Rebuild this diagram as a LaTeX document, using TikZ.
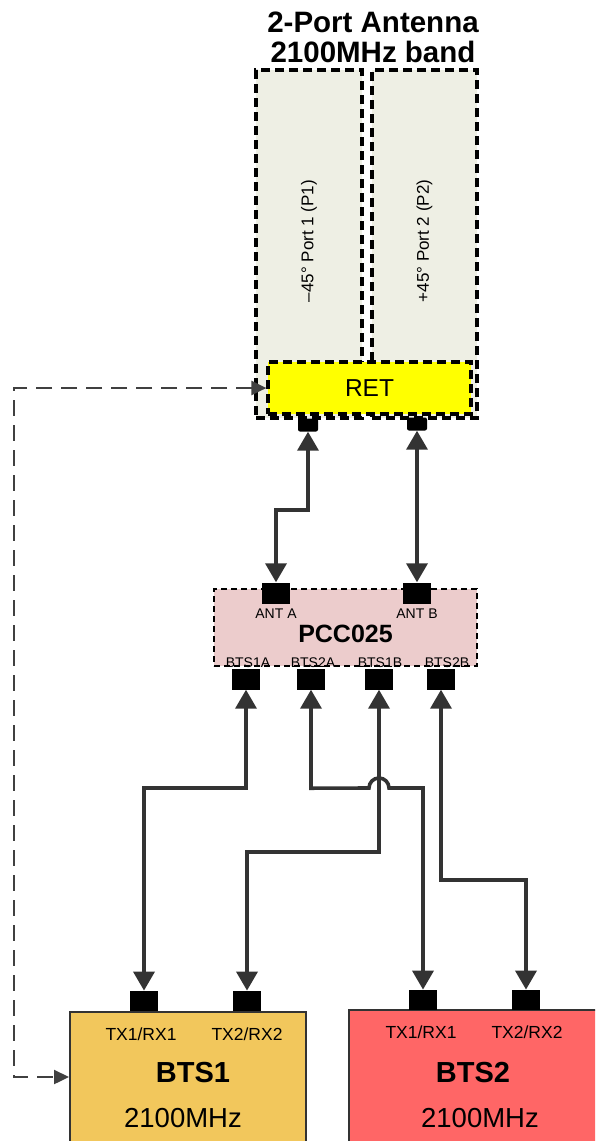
\documentclass[tikz,border=0pt]{standalone}
\usepackage{fontspec}
\setmainfont{Liberation Sans}
\usepackage{xcolor}
\usetikzlibrary{arrows.meta,positioning}

\definecolor{panelfill}{HTML}{EEEFE4}
\definecolor{retfill}{HTML}{FFFF00}
\definecolor{pccfill}{HTML}{ECCCCC}
\definecolor{btsonefill}{HTML}{F2C75C}
\definecolor{btstwofill}{HTML}{FF6666}
\definecolor{wire}{HTML}{333333}
\definecolor{ctrlwire}{HTML}{404040}

\begin{document}
\begin{tikzpicture}[x=1pt, y=-1pt,
  panel/.style={draw, line width=3.2pt, dash pattern=on 9pt off 5pt, fill=panelfill, minimum height=348pt, inner sep=0pt},
  retbox/.style={draw, line width=3.2pt, dash pattern=on 9pt off 5pt, fill=retfill, minimum width=203pt, minimum height=52pt, inner sep=0pt, font=\fontsize{24.5}{24.5}\selectfont},
  pccbox/.style={draw, line width=2.2pt, dash pattern=on 6pt off 4pt, fill=pccfill, minimum width=263pt, minimum height=77pt, inner sep=0pt},
  btsbox/.style={draw=wire, line width=2.4pt, minimum height=170pt, inner sep=0pt, anchor=north west},
  antport/.style={fill=black, rounded corners=2pt, minimum width=20pt, minimum height=13pt, inner sep=0pt},
  port/.style={fill=black, minimum width=28pt, minimum height=21pt, inner sep=0pt},
  lbl/.style={inner sep=0pt, anchor=base},
  portlbl/.style={inner sep=0pt, font=\fontsize{14}{14}\selectfont},
  txlbl/.style={lbl, font=\fontsize{17.5}{17.5}\selectfont},
  biarrow/.style={{Triangle[width=21pt,length=19pt]}-{Triangle[width=21pt,length=19pt]}, line width=3.6pt, color=wire},
  ctrlarrow/.style={{Triangle[width=14pt,length=15pt]}-{Triangle[width=14pt,length=15pt]}, line width=2.4pt, dash pattern=on 16pt off 9pt, color=ctrlwire},
]
\useasboundingbox (0,0) rectangle (595,1141);
\clip (0,0) rectangle (595,1141);

% antenna
\node[lbl, font=\bfseries\fontsize{29.5}{29.5}\selectfont] (titleone) at (373,32) {2-Port Antenna};
\node[lbl, font=\bfseries\fontsize{29.5}{29.5}\selectfont] (titletwo) at (373,62) {2100MHz band};

\node[panel, minimum width=106pt] (portone) at (309,244) {};
\node[panel, minimum width=105pt] (porttwo) at (424.5,244) {};
\node[rotate=90, font=\fontsize{17}{17}\selectfont] (portonelbl) at ([yshift=3pt]portone.center) {--45° Port 1 (P1)};
\node[rotate=90, font=\fontsize{17}{17}\selectfont] (porttwolbl) at ([yshift=3pt]porttwo.center) {+45° Port 2 (P2)};

\node[retbox] (ret) at (369.5,388) {RET};

\node[antport] (antportone) at (308,425) {};
\node[antport] (antporttwo) at (417,424) {};

% combiner
\node[pccbox] (pcc) at (345.5,627.5) {};
\node[port] (anta) at (276,593) {};
\node[port] (antb) at (417,593) {};
\node[portlbl, below=4.5pt of anta] (antalbl) {ANT A};
\node[portlbl, below=4.5pt of antb] (antblbl) {ANT B};
\node[lbl, font=\bfseries\fontsize{25}{25}\selectfont] (pcclbl) at (345.5,642) {PCC025};

\node[port] (pbtsonea) at (246,679) {};
\node[port] (pbtstwoa) at (311,679) {};
\node[port] (pbtsoneb) at (379,679) {};
\node[port] (pbtstwob) at (441,679) {};
\node[portlbl, anchor=base] at (248,667) {BTS1A};
\node[portlbl, anchor=base] at (313,667) {BTS2A};
\node[portlbl, anchor=base] at (380,667) {BTS1B};
\node[portlbl, anchor=base] at (447,667) {BTS2B};

% base stations
\node[btsbox, fill=btsonefill, minimum width=236pt] (btsone) at (69,1011) {};
\node[btsbox, fill=btstwofill, minimum width=260pt] (btstwo) at (348,1009) {};

\node[port, minimum height=20pt, anchor=south] (bonetxone) at (144,1011) {};
\node[port, minimum height=20pt, anchor=south] (bonetxtwo) at (247,1011) {};
\node[port, minimum height=20pt, anchor=south] (btwotxone) at (423,1010) {};
\node[port, minimum height=20pt, anchor=south] (btwotxtwo) at (526,1010) {};

\node[txlbl] at (141,1040) {TX1/RX1};
\node[txlbl] at (247,1040) {TX2/RX2};
\node[lbl, font=\bfseries\fontsize{29}{29}\selectfont] at (193,1082) {BTS1};
\node[lbl, font=\fontsize{27.5}{27.5}\selectfont] at (183,1127) {2100MHz};

\node[txlbl] at (421,1038) {TX1/RX1};
\node[txlbl] at (527,1038) {TX2/RX2};
\node[lbl, font=\bfseries\fontsize{29}{29}\selectfont] at (473,1082) {BTS2};
\node[lbl, font=\fontsize{27.5}{27.5}\selectfont] at (480,1127) {2100MHz};

% feeders
\draw[biarrow] (antportone.south) -- ++(0,78) -| (anta.north);
\draw[biarrow] (antporttwo.south) -- (antb.north);

\draw[biarrow] (pbtsonea.south) -- ++(0,98.5) -| (bonetxone.north);
\draw[biarrow] (pbtstwoa.south) -- ++(0,98.5) -- (369,788) arc[start angle=180, end angle=360, radius=10] -| (btwotxone.north);
\draw[biarrow] (pbtsoneb.south) -- ++(0,162.5) -| (bonetxtwo.north);
\draw[biarrow] (pbtstwob.south) -- ++(0,190.5) -| (btwotxtwo.north);

% RET control
\coordinate (ctrlcorner) at (14,1077);
\draw[ctrlarrow] (ret.west) -| (ctrlcorner) -- (ctrlcorner -| btsone.west);

\end{tikzpicture}
\end{document}
